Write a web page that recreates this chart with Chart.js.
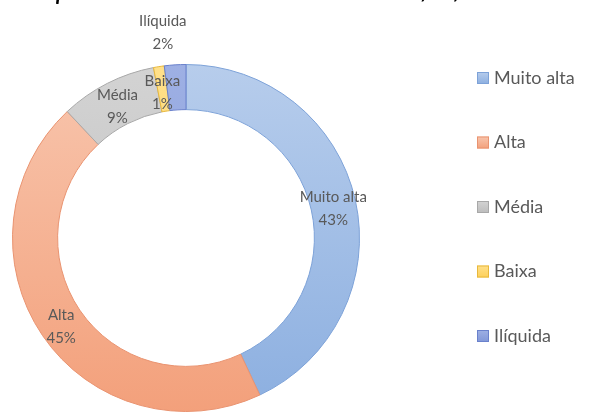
<!DOCTYPE html>
<html>
<head>
<meta charset="utf-8">
<script src="https://cdn.jsdelivr.net/npm/chart.js@4/dist/chart.umd.min.js"></script>
<style>
  body { margin: 0; background: #fff; }
  #wrap { position: relative; width: 592px; height: 412px; overflow: hidden; }
</style>
</head>
<body>
<div id="wrap"><canvas id="liquidezChart" width="592" height="412"></canvas></div>
<script>
// liquidez.js

const categories = ["Muito alta", "Alta", "Média", "Baixa", "Ilíquida"];
const shares = [43, 45, 9, 1, 2];

const titleText = "Índice de liquidez da carteira de investimentos em 30/06/2019";

// light / dark stops for each slice, plus its outline
const sliceColors = [
    { light: "#b7cdec", dark: "#8cafe0", border: "#7da2d8" },
    { light: "#f8c6ae", dark: "#f3a07b", border: "#e99370" },
    { light: "#d3d3d3", dark: "#bcbcbc", border: "#a8a8a8" },
    { light: "#ffe08a", dark: "#fdd05a", border: "#e8b83c" },
    { light: "#9eb0e4", dark: "#8197d8", border: "#6a81cc" },
];
const outsideLabels = ["Ilíquida"];

const FONT = "Lato, 'Open Sans', sans-serif";
const TEXT_COLOR = "#595959";

function sliceFill(context) {
    const chart = context.chart;
    const area = chart.chartArea;
    const c = sliceColors[context.dataIndex];
    if (!area) return c.dark;
    const g = chart.ctx.createLinearGradient(0, area.top, 0, area.bottom);
    g.addColorStop(0, c.light);
    g.addColorStop(1, c.dark);
    return g;
}

// percent labels on the ring, small ones pushed outside
const ringLabels = {
    id: "ringLabels",
    afterDatasetsDraw(chart) {
        const ctx = chart.ctx;
        const meta = chart.getDatasetMeta(0);
        ctx.save();
        ctx.font = "15px " + FONT;
        ctx.fillStyle = TEXT_COLOR;
        ctx.textAlign = "center";
        ctx.textBaseline = "middle";
        meta.data.forEach((arc, i) => {
            const p = arc.getProps(["x", "y", "startAngle", "endAngle", "innerRadius", "outerRadius"], true);
            const mid = (p.startAngle + p.endAngle) / 2;
            let r = (p.innerRadius + p.outerRadius) / 2;
            if (outsideLabels.includes(categories[i])) r = p.outerRadius + 36;
            let x = p.x + Math.cos(mid) * r;
            const y = p.y + Math.sin(mid) * r + 3;
            if (outsideLabels.includes(categories[i])) x -= 10;
            ctx.fillText(categories[i], x, y - 11);
            ctx.fillText(shares[i] + "%", x, y + 12);
        });
        ctx.restore();
    }
};

// legend column on the right and the heading strip on top
const sideLegend = {
    id: "sideLegend",
    afterDraw(chart) {
        const ctx = chart.ctx;
        ctx.save();
        ctx.font = "18px " + FONT;
        ctx.textBaseline = "middle";
        categories.forEach((name, i) => {
            const y = 78 + i * 64.5;
            const c = sliceColors[i];
            const g = ctx.createLinearGradient(0, y - 6, 0, y + 6);
            g.addColorStop(0, c.light);
            g.addColorStop(1, c.dark);
            ctx.fillStyle = g;
            ctx.fillRect(477, y - 6, 12, 12);
            ctx.strokeStyle = c.border;
            ctx.lineWidth = 1;
            ctx.strokeRect(477.5, y - 5.5, 11, 11);
            ctx.fillStyle = TEXT_COLOR;
            ctx.fillText(name, 494, y);
        });
        ctx.font = "italic bold 21px " + FONT;
        ctx.fillStyle = "#000";
        ctx.textAlign = "right";
        ctx.textBaseline = "alphabetic";
        ctx.fillText(titleText, 512, 0);
        ctx.restore();
    }
};

new Chart(document.getElementById("liquidezChart").getContext("2d"), {
    type: "doughnut",
    data: {
        labels: categories,
        datasets: [
            {
                data: shares,
                backgroundColor: sliceFill,
                borderColor: sliceColors.map(c => c.border),
                borderWidth: 1,
            },
        ],
    },
    options: {
        responsive: false,
        animation: false,
        cutout: "74%",
        layout: {
            padding: { top: 64, bottom: 0, left: 0, right: 220 },
        },
        plugins: {
            legend: { display: false },
            tooltip: { enabled: false },
        },
    },
    plugins: [ringLabels, sideLegend],
});
</script>
</body>
</html>
